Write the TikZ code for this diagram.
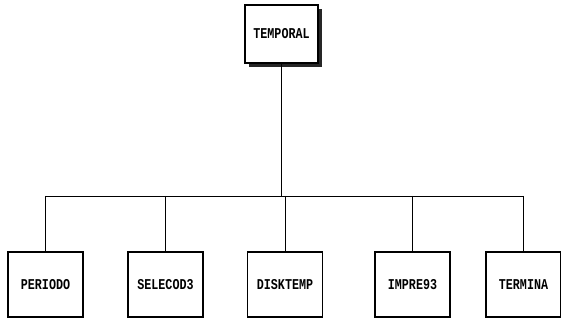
\documentclass[tikz,border=0pt]{standalone}
\usepackage{fontspec}
\newfontfamily\printfont[FakeStretch=0.78]{Liberation Mono}
\begin{document}
\begin{tikzpicture}[
  x=1pt, y=-1pt,
  modbox/.style={draw, line width=1.8pt, fill=white, minimum width=75pt, minimum height=65pt,
    inner sep=0pt, font=\printfont\bfseries\fontsize{15}{15}\selectfont},
  topbox/.style={modbox, line width=1.4pt, minimum width=73pt, minimum height=58pt},
  link/.style={line width=0.9pt}
]
\useasboundingbox (0,0) rectangle (561,320);
% main module
\fill[black!85] (248.5,9) rectangle (322,67.5);
\node[topbox] (temporal) at (281.5,34) {TEMPORAL};
% called modules
\node[modbox] (periodo) at (45.5,284.5) {PERIODO};
\node[modbox] (selecod) at (165.5,284.5) {SELECOD3};
\node[modbox] (disktemp) at (285,284.5) {DISKTEMP};
\node[modbox] (impre) at (412.5,284.5) {IMPRE93};
\node[modbox] (termina) at (523.5,284.5) {TERMINA};
% connectors
\coordinate (bus) at (0,196);
\draw[link] (temporal.south) -- (temporal.south |- bus);
\draw[link] (periodo.north |- bus) -- (termina.north |- bus);
\foreach \m in {periodo,selecod,disktemp,impre,termina}
  \draw[link] (\m.north |- bus) -- (\m.north);
\end{tikzpicture}
\end{document}
